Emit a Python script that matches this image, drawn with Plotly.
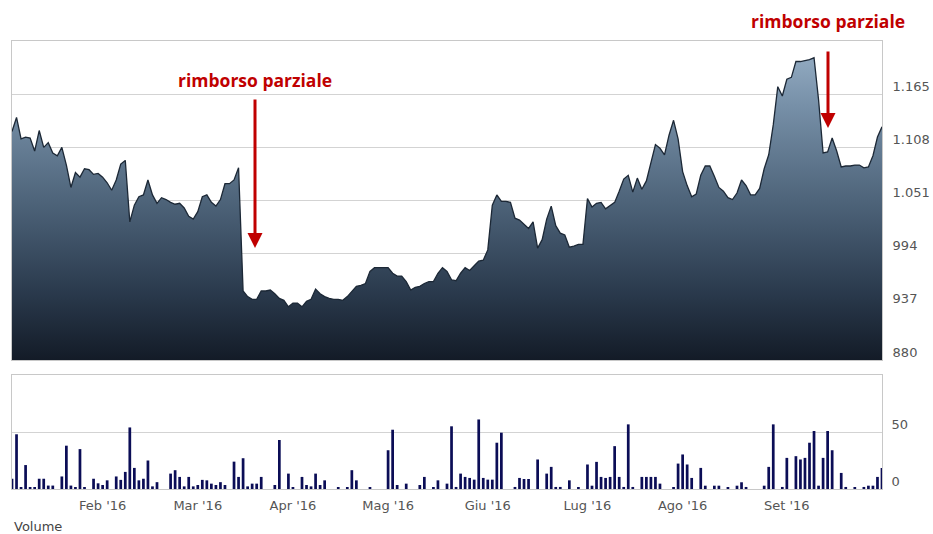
import pandas as pd
import plotly.graph_objects as go

# ---------------- data ----------------
holidays = ["2016-03-25", "2016-03-28"]
dates = [d.strftime("%Y-%m-%d") for d in pd.bdate_range("2016-01-04", "2016-09-30")
         if d.strftime("%Y-%m-%d") not in holidays]

price = [
    1125, 1140, 1117, 1119, 1118, 1104, 1126, 1108, 1113, 1102,
    1099, 1108, 1089, 1065, 1081, 1076, 1085, 1084, 1079, 1080,
    1076, 1070, 1062, 1073, 1090, 1094, 1028, 1046, 1055, 1057,
    1073, 1057, 1048, 1054, 1052, 1049, 1047, 1048, 1043, 1034,
    1031, 1039, 1055, 1057, 1049, 1045, 1052, 1069, 1069, 1073,
    1086, 954, 948, 945, 945, 954, 954, 955, 951,
    946, 944, 937, 941, 941, 937, 943, 945, 956, 951,
    948, 946, 945, 945, 944, 948, 953, 959, 960, 962,
    975, 979, 979, 979, 979, 973, 970, 970, 964, 955,
    958, 959, 962, 964, 964, 973, 979, 975, 966, 965,
    973, 979, 976, 981, 986, 987, 998, 1046, 1057, 1050,
    1050, 1049, 1032, 1030, 1026, 1021, 1028, 1000, 1009, 1031,
    1045, 1024, 1016, 1014, 1001, 1002, 1004, 1004, 1053,
    1044, 1048, 1049, 1042, 1046, 1049, 1061, 1074, 1078, 1060,
    1075, 1063, 1072, 1092, 1111, 1107, 1100, 1121, 1137, 1117,
    1082, 1067, 1055, 1058, 1078, 1088, 1088, 1077, 1065, 1061,
    1054, 1052, 1059, 1073, 1067, 1057, 1057, 1064, 1085, 1100,
    1132, 1173, 1163, 1181, 1183, 1200, 1200, 1201, 1202, 1204,
    1159, 1102, 1103, 1118, 1104, 1087, 1088, 1088, 1089, 1089,
    1086, 1087, 1099, 1119, 1130,
]

volume = [
    9, 48, 1, 21, 1, 1, 9, 9, 3, 3,
    0, 11, 38, 3, 1, 35, 1, 0, 9, 5,
    3.5, 7.6, 0, 11, 8, 15, 54, 18.5, 7.6, 9,
    25, 2.3, 6, 0, 0, 13.5, 16.5, 10.6, 2.3, 10.6,
    2.3, 3.5, 8, 7.6, 4.7, 3.5, 6, 3.5, 0, 24,
    10.6, 27, 2.3, 4.7, 4.7, 10.6, 0, 0, 3.5,
    43, 0, 13.5, 1, 0, 10.6, 3.5, 2.3, 13.5, 3.5,
    7.6, 0, 0, 1, 0, 1, 16.5, 7.6, 0, 0,
    1, 0, 0, 0, 34, 52, 3.5, 0, 4.7, 0,
    0, 3.5, 10.6, 0, 1.7, 7.6, 0, 4.7, 55, 1.8,
    13.5, 10.6, 9.7, 8.2, 61, 9.7, 8.2, 8.2, 40.6, 49.4,
    0, 0, 1.8, 9.7, 8.8, 8.8, 0, 25.9, 0, 13.5,
    19.4, 1.8, 1.8, 0, 7.6, 0, 0.9, 0, 21.5,
    2.9, 23.8, 10.6, 9.7, 10.6, 37.6, 10.6, 1.8, 56.7, 1.8,
    0, 10.6, 10.6, 10.6, 10.6, 4.7, 0, 0, 0.9, 22.3,
    30.3, 21.5, 9.7, 0, 18.5, 2.9, 0, 2.9, 2.9, 0,
    0.9, 0, 2.9, 5.9, 1.8, 0, 0, 0, 2.9, 19.4,
    56.7, 0, 1.8, 27.3, 0, 28.8, 25.9, 27.3, 40.6, 50.9,
    2.9, 27.3, 50.9, 34, 0, 14.1, 1.8, 0, 0.9, 0,
    1.8, 2.9, 2.9, 10.6, 18.5,
]

month_ticks = ["2016-02-01", "2016-03-01", "2016-04-01", "2016-05-02",
               "2016-06-01", "2016-07-01", "2016-08-01", "2016-09-01"]
month_labels = ["Feb '16", "Mar '16", "Apr '16", "Mag '16",
                "Giu '16", "Lug '16", "Ago '16", "Set '16"]

price_ticks = [880, 937, 994, 1051, 1108, 1165]
price_tick_labels = ["880", "937", "994", "1.051", "1.108", "1.165"]
price_range = [880, 1222]
vol_ticks = [0, 50]
vol_tick_labels = ["0", "50"]
vol_range = [0, 100]

annotation_text = "rimborso parziale"

# ---------------- figure ----------------
tick_font = dict(family="DejaVu Sans", size=13, color="#555555")
grid_col = "#d3d3d3"
border_col = "#c8c8c8"
rb = [dict(bounds=["sat", "mon"]), dict(values=holidays)]

fig = go.Figure()
fig.add_trace(go.Scatter(
    x=dates, y=price, mode="lines",
    line=dict(color="#1c2836", width=1.3),
    fill="tozeroy",
    fillgradient=dict(type="vertical",
                      colorscale=[[0, "#131b27"], [0.22, "#2b3b4e"],
                                  [0.5, "#4e647a"], [0.8, "#7790a8"],
                                  [1, "#9ab2c8"]],
                      start=880, stop=1222),
    xaxis="x", yaxis="y", hoverinfo="skip",
))
fig.add_trace(go.Bar(
    x=dates, y=volume,
    marker=dict(color="#0b0d56", line=dict(width=0)),
    width=0.6 * 86400000,
    xaxis="x2", yaxis="y2", hoverinfo="skip",
))

H = 448.0  # plot height in px (41..489)
ann_font = dict(family="Open Sans", size=17.5, color="#c00000", weight="bold")
fig.update_layout(
    width=933, height=534,
    margin=dict(l=12, r=51, t=41, b=45, autoexpand=False),
    paper_bgcolor="white", plot_bgcolor="white",
    showlegend=False,
    xaxis=dict(domain=[0, 1], anchor="y", type="date",
               range=[dates[0], dates[-1]], rangebreaks=rb,
               showticklabels=False, showgrid=False, zeroline=False,
               showline=True, mirror=True, linecolor=border_col, ticks=""),
    xaxis2=dict(domain=[0, 1], anchor="y2", type="date", matches="x",
                rangebreaks=rb, tickvals=month_ticks, ticktext=month_labels,
                showgrid=False, zeroline=False, showline=True, mirror=True,
                linecolor=border_col, ticks="", tickfont=tick_font,
                ticklabelstandoff=4, automargin=False),
    yaxis=dict(domain=[(489 - 360) / H, 1], anchor="x", side="right",
               range=price_range, tickvals=price_ticks, ticktext=price_tick_labels,
               showgrid=True, gridcolor=grid_col, zeroline=False,
               showline=True, mirror=True, linecolor=border_col, ticks="",
               tickfont=tick_font, ticklabelstandoff=7, ticklabelshift=-8,
               automargin=False),
    yaxis2=dict(domain=[0, (489 - 375) / H], anchor="x2", side="right",
                range=vol_range, tickvals=vol_ticks, ticktext=vol_tick_labels,
                showgrid=True, gridcolor=grid_col, zeroline=False,
                showline=True, mirror=True, linecolor=border_col, ticks="",
                tickfont=tick_font, ticklabelstandoff=6, ticklabelshift=-8,
                automargin=False),
    annotations=[
        dict(text=annotation_text, xref="paper", yref="paper",
             x=(255 - 12) / 870, y=(489 - 80) / H, showarrow=False,
             xanchor="center", yanchor="middle", font=ann_font),
        dict(text=annotation_text, xref="paper", yref="paper",
             x=(828 - 12) / 870, y=(489 - 21) / H, showarrow=False,
             xanchor="center", yanchor="middle", font=ann_font),
        dict(text="", xref="paper", yref="paper",
             x=(255 - 12) / 870, y=(489 - 248) / H, showarrow=True,
             ax=0, ay=-150, arrowhead=2, arrowsize=1, arrowwidth=3,
             arrowcolor="#c00000"),
        dict(text="", xref="paper", yref="paper",
             x=(828 - 12) / 870, y=(489 - 128) / H, showarrow=True,
             ax=0, ay=-78, arrowhead=2, arrowsize=1, arrowwidth=3,
             arrowcolor="#c00000"),
        dict(text="Volume", xref="paper", yref="paper",
             x=0, y=(489 - 526) / H, xanchor="left", yanchor="middle",
             showarrow=False,
             font=dict(family="DejaVu Sans", size=13, color="#444444")),
    ],
)

fig.write_html("out.html", config={"displayModeBar": False})
